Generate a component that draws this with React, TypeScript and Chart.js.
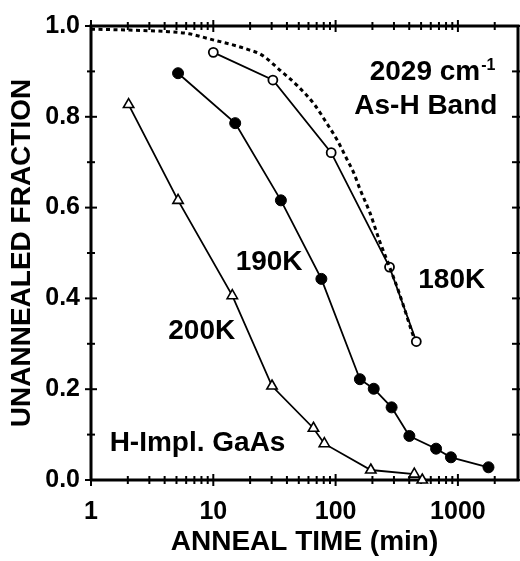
import React, { useEffect, useRef } from "react";
import { Chart, registerables } from "chart.js";
Chart.register(...registerables);

const xTickValues = [1, 10, 100, 1000];
const xMinorTickValues = [2, 3, 4, 5, 6, 7, 8, 9, 20, 30, 40, 50, 60, 70, 80, 90, 200, 300, 400, 500, 600, 700, 800, 900, 2000];
const yTickValues = [0, 0.2, 0.4, 0.6, 0.8, 1.0];
const yMinorTickValues = [0.1, 0.3, 0.5, 0.7, 0.9];
const yRightTickValues = [0, 0.1, 0.2, 0.3, 0.4, 0.5, 0.6, 0.7, 0.8, 0.9, 1.0];

const time180 = [10, 30.7, 92, 276, 457];
const frac180 = [0.942, 0.881, 0.721, 0.469, 0.305];

const time190 = [5.15, 15.1, 35.7, 76.5, 158, 205, 287, 401, 663, 877, 1778];
const frac190 = [0.896, 0.786, 0.616, 0.443, 0.222, 0.201, 0.16, 0.097, 0.069, 0.05, 0.028];

const time200 = [2.03, 5.15, 14.3, 30.2, 65.9, 80.9, 194, 440, 511];
const frac200 = [0.827, 0.616, 0.406, 0.207, 0.114, 0.08, 0.022, 0.013, 0.0];

const timeFit = [1, 2.07, 3.97, 6.32, 9.16, 16, 19.3, 24.6, 35.7, 48.9, 67.1, 85.5, 103, 124, 141, 158, 190, 230, 271, 333, 416, 432];
const fracFit = [0.993, 0.991, 0.988, 0.983, 0.972, 0.955, 0.948, 0.937, 0.901, 0.868, 0.827, 0.784, 0.749, 0.706, 0.676, 0.641, 0.59, 0.525, 0.475, 0.41, 0.33, 0.317];

const FONT = '"Liberation Sans", Arial, Helvetica, sans-serif';
const X_MIN = 1;
const X_MAX = 3100;
const Y_MIN = 0;
const Y_MAX = 1;

const pts = (xs: number[], ys: number[]) => xs.map((x, i) => ({ x, y: ys[i] }));

// frame of the plot, through the corners of the axis ranges
const framePoints = [
  { x: X_MIN, y: Y_MIN },
  { x: X_MAX, y: Y_MIN },
  { x: X_MAX, y: Y_MAX },
  { x: X_MIN, y: Y_MAX },
  { x: X_MIN, y: Y_MIN },
];

const tickSet = (points: { x: number; y: number }[], rotation: number, radius: number) => ({
  data: points,
  showLine: false,
  pointStyle: "line",
  rotation,
  pointRadius: radius,
  pointBorderWidth: 2,
  pointBorderColor: "#000",
  pointBackgroundColor: "#000",
  clip: false,
});

const textPlugin = {
  id: "texts",
  afterDraw(chart: any) {
    const ctx = chart.ctx;
    const sx = chart.scales.x;
    const sy = chart.scales.y;
    ctx.save();
    ctx.fillStyle = "#000";
    ctx.font = `bold 28px ${FONT}`;
    const put = (s: string, tx: number, ty: number, align: CanvasTextAlign) => {
      ctx.textAlign = align;
      ctx.textBaseline = "middle";
      ctx.fillText(s, sx.getPixelForValue(tx), sy.getPixelForValue(ty));
    };
    ctx.textAlign = "left";
    ctx.textBaseline = "alphabetic";
    const bx = sx.getPixelForValue(190);
    const by = sy.getPixelForValue(0.881);
    const main = "2029 cm";
    ctx.fillText(main, bx, by);
    const w = ctx.measureText(main).width;
    ctx.font = `bold 16px ${FONT}`;
    ctx.fillText("-1", bx + w + 1, by - 10);
    ctx.font = `bold 28px ${FONT}`;
    put("As-H Band", 2103, 0.823, "right");
    put("180K", 474, 0.441, "left");
    put("190K", 53.7, 0.479, "right");
    put("200K", 15.1, 0.328, "right");
    put("H-Impl. GaAs", 1.42, 0.08, "left");
    ctx.restore();
  },
};

export default function App() {
  const ref = useRef<HTMLCanvasElement>(null);
  useEffect(() => {
    const chart = new Chart(ref.current as HTMLCanvasElement, {
      type: "scatter",
      data: {
        datasets: [
          {
            data: pts(timeFit, fracFit),
            showLine: true,
            borderColor: "#000",
            borderWidth: 3,
            borderDash: [4, 3.5],
            cubicInterpolationMode: "monotone",
            pointRadius: 0,
            clip: false,
          },
          {
            data: pts(time180, frac180),
            showLine: true,
            borderColor: "#000",
            borderWidth: 1.8,
            pointRadius: 4.5,
            pointBorderWidth: 1.8,
            pointBackgroundColor: "#fff",
            pointBorderColor: "#000",
            clip: false,
          },
          {
            data: pts(time190, frac190),
            showLine: true,
            borderColor: "#000",
            borderWidth: 1.8,
            pointRadius: 5.5,
            pointBorderWidth: 1,
            pointBackgroundColor: "#000",
            pointBorderColor: "#000",
            clip: false,
          },
          {
            data: pts(time200, frac200),
            showLine: true,
            borderColor: "#000",
            borderWidth: 1.8,
            pointStyle: "triangle",
            pointRadius: 6,
            pointBorderWidth: 1.6,
            pointBackgroundColor: "#fff",
            pointBorderColor: "#000",
            clip: false,
          },
          {
            data: framePoints,
            showLine: true,
            borderColor: "#000",
            borderWidth: 3,
            pointRadius: 0,
            clip: false,
          } as any,
          tickSet(
            xTickValues.flatMap((v) => [{ x: v, y: Y_MIN }, { x: v, y: Y_MAX }]),
            90,
            6
          ) as any,
          tickSet(
            xMinorTickValues.flatMap((v) => [{ x: v, y: Y_MIN }, { x: v, y: Y_MAX }]),
            90,
            4
          ) as any,
          tickSet(yTickValues.map((v) => ({ x: X_MIN, y: v })), 0, 6) as any,
          tickSet(yMinorTickValues.map((v) => ({ x: X_MIN, y: v })), 0, 4) as any,
          tickSet(yRightTickValues.map((v) => ({ x: X_MAX, y: v })), 0, 6) as any,
        ],
      },
      options: {
        responsive: false,
        animation: false,
        layout: { padding: { left: 0, top: 17, right: 3, bottom: 0 } },
        plugins: { legend: { display: false }, tooltip: { enabled: false } },
        scales: {
          x: {
            type: "logarithmic",
            min: X_MIN,
            max: X_MAX,
            grid: { display: false, drawTicks: false },
            border: { display: false },
            afterBuildTicks: (s: any) => {
              s.ticks = xTickValues.map((v) => ({ value: v }));
            },
            afterFit: (s: any) => {
              s.height = 81;
            },
            ticks: {
              autoSkip: false,
              maxRotation: 0,
              padding: 17,
              color: "#000",
              font: { family: FONT, size: 25, weight: "bold" },
              callback: (v: any) => String(v),
            },
            title: {
              display: true,
              text: "ANNEAL TIME (min)",
              color: "#000",
              font: { family: FONT, size: 28, weight: "bold" },
              padding: { top: 0, bottom: 2 },
            },
          },
          y: {
            min: Y_MIN,
            max: Y_MAX,
            grid: { display: false, drawTicks: false },
            border: { display: false },
            afterBuildTicks: (s: any) => {
              s.ticks = yTickValues.map((v) => ({ value: v }));
            },
            afterFit: (s: any) => {
              s.width = 91;
            },
            ticks: {
              padding: 11,
              color: "#000",
              font: { family: FONT, size: 25, weight: "bold" },
              callback: (v: any) => Number(v).toFixed(1),
            },
            title: {
              display: true,
              text: "UNANNEALED FRACTION",
              color: "#000",
              font: { family: FONT, size: 28, weight: "bold" },
              padding: { top: 5, bottom: 0 },
            },
          },
        },
      },
      plugins: [textPlugin],
    });
    return () => chart.destroy();
  }, []);
  return (
    <div
      style={{
        position: "fixed",
        left: 0,
        top: 0,
        width: 520,
        height: 561,
        overflow: "hidden",
        background: "#fff",
      }}
    >
      <canvas ref={ref} width={526} height={561} style={{ display: "block", width: 526, height: 561 }} />
    </div>
  );
}
